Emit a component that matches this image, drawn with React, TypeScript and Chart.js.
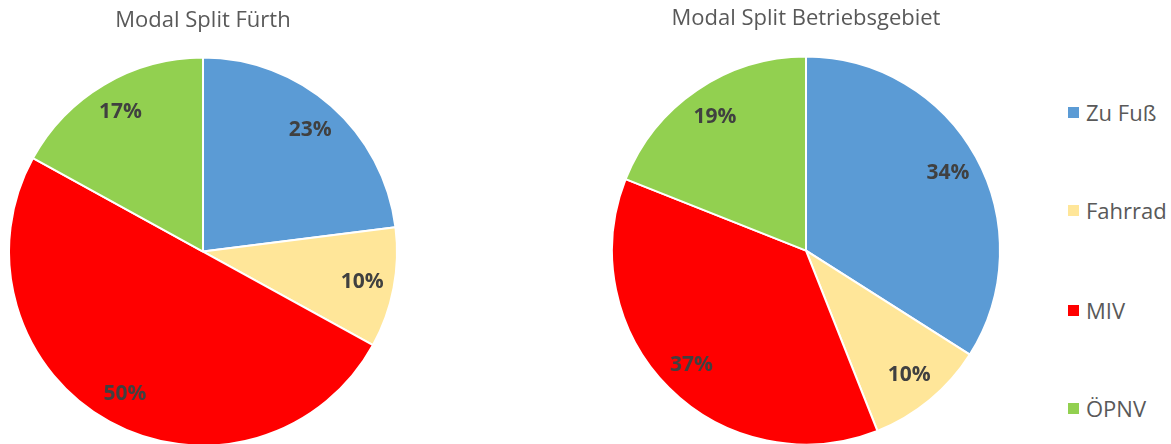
import React, { useEffect, useRef } from "react";
import { Chart, registerables } from "chart.js";

Chart.register(...registerables);

const categories = ["Zu Fuß", "Fahrrad", "MIV", "ÖPNV"];
const furthValues = [23, 10, 50, 17];
const betriebValues = [34, 10, 37, 19];
const titles = ["Modal Split Fürth", "Modal Split Betriebsgebiet"];
const colors = ["#5B9BD5", "#FFE699", "#FF0000", "#92D050"];

const FONT = "'Open Sans', 'DejaVu Sans', sans-serif";

const labelPlugin = {
  id: "pctLabels",
  afterDatasetsDraw(chart: any) {
    const ctx = chart.ctx;
    const meta = chart.getDatasetMeta(0);
    const data = chart.data.datasets[0].data as number[];
    const total = data.reduce((a, b) => a + b, 0);
    ctx.save();
    ctx.font = `bold 21px ${FONT}`;
    ctx.fillStyle = "#404040";
    ctx.textAlign = "center";
    ctx.textBaseline = "middle";
    meta.data.forEach((arc: any, i: number) => {
      const p = arc.getProps(["startAngle", "endAngle", "outerRadius", "x", "y"], true);
      const mid = (p.startAngle + p.endAngle) / 2;
      const r = p.outerRadius * 0.835;
      const x = p.x + Math.cos(mid) * r;
      const y = p.y + Math.sin(mid) * r;
      ctx.fillText(Math.round((data[i] / total) * 100) + "%", x, y);
    });
    ctx.restore();
  },
};

function PieChart(props: {
  values: number[];
  title: string;
  left: number;
  width: number;
  height: number;
  padX: number;
  titleTop: number;
}) {
  const ref = useRef<HTMLCanvasElement>(null);
  useEffect(() => {
    if (!ref.current) return;
    const chart = new Chart(ref.current, {
      type: "pie",
      data: {
        labels: categories,
        datasets: [
          {
            data: props.values,
            backgroundColor: colors,
            borderColor: "#FFFFFF",
            borderWidth: 2,
          },
        ],
      },
      options: {
        responsive: false,
        animation: false,
        layout: { padding: { left: props.padX - 1, right: props.padX - 1, top: 0, bottom: 0 } },
        plugins: {
          legend: { display: false },
          tooltip: { enabled: false },
          title: {
            display: true,
            text: props.title,
            color: "#595959",
            font: { family: FONT, size: 22, weight: "normal" },
            padding: { top: props.titleTop, bottom: 55.2 - props.titleTop - 26.4 },
            lineHeight: 1.2,
          } as any,
        },
      },
      plugins: [labelPlugin],
    });
    return () => chart.destroy();
  }, []);
  return (
    <canvas
      ref={ref}
      width={props.width}
      height={props.height}
      style={{ position: "absolute", left: props.left, top: 0, width: props.width, height: props.height }}
    />
  );
}

export default function App() {
  const legendY = [112, 210, 310, 408];
  return (
    <div
      style={{
        position: "fixed",
        left: 0,
        top: 0,
        width: 1171,
        height: 444,
        overflow: "hidden",
        background: "#FFFFFF",
      }}
    >
      <PieChart values={furthValues} title={titles[0]} left={0} width={406} height={448} padX={9} titleTop={8} />
      <PieChart values={betriebValues} title={titles[1]} left={600} width={412} height={446} padX={12} titleTop={6} />
      {categories.map((c, i) => (
        <div key={c}>
          <div
            style={{
              position: "absolute",
              left: 1068,
              top: legendY[i] - 5,
              width: 11,
              height: 11,
              background: colors[i],
            }}
          />
          <div
            style={{
              position: "absolute",
              left: 1086,
              top: legendY[i] - 15,
              height: 30,
              lineHeight: "30px",
              fontFamily: FONT,
              fontSize: 22,
              color: "#595959",
              whiteSpace: "nowrap",
            }}
          >
            {c}
          </div>
        </div>
      ))}
    </div>
  );
}
